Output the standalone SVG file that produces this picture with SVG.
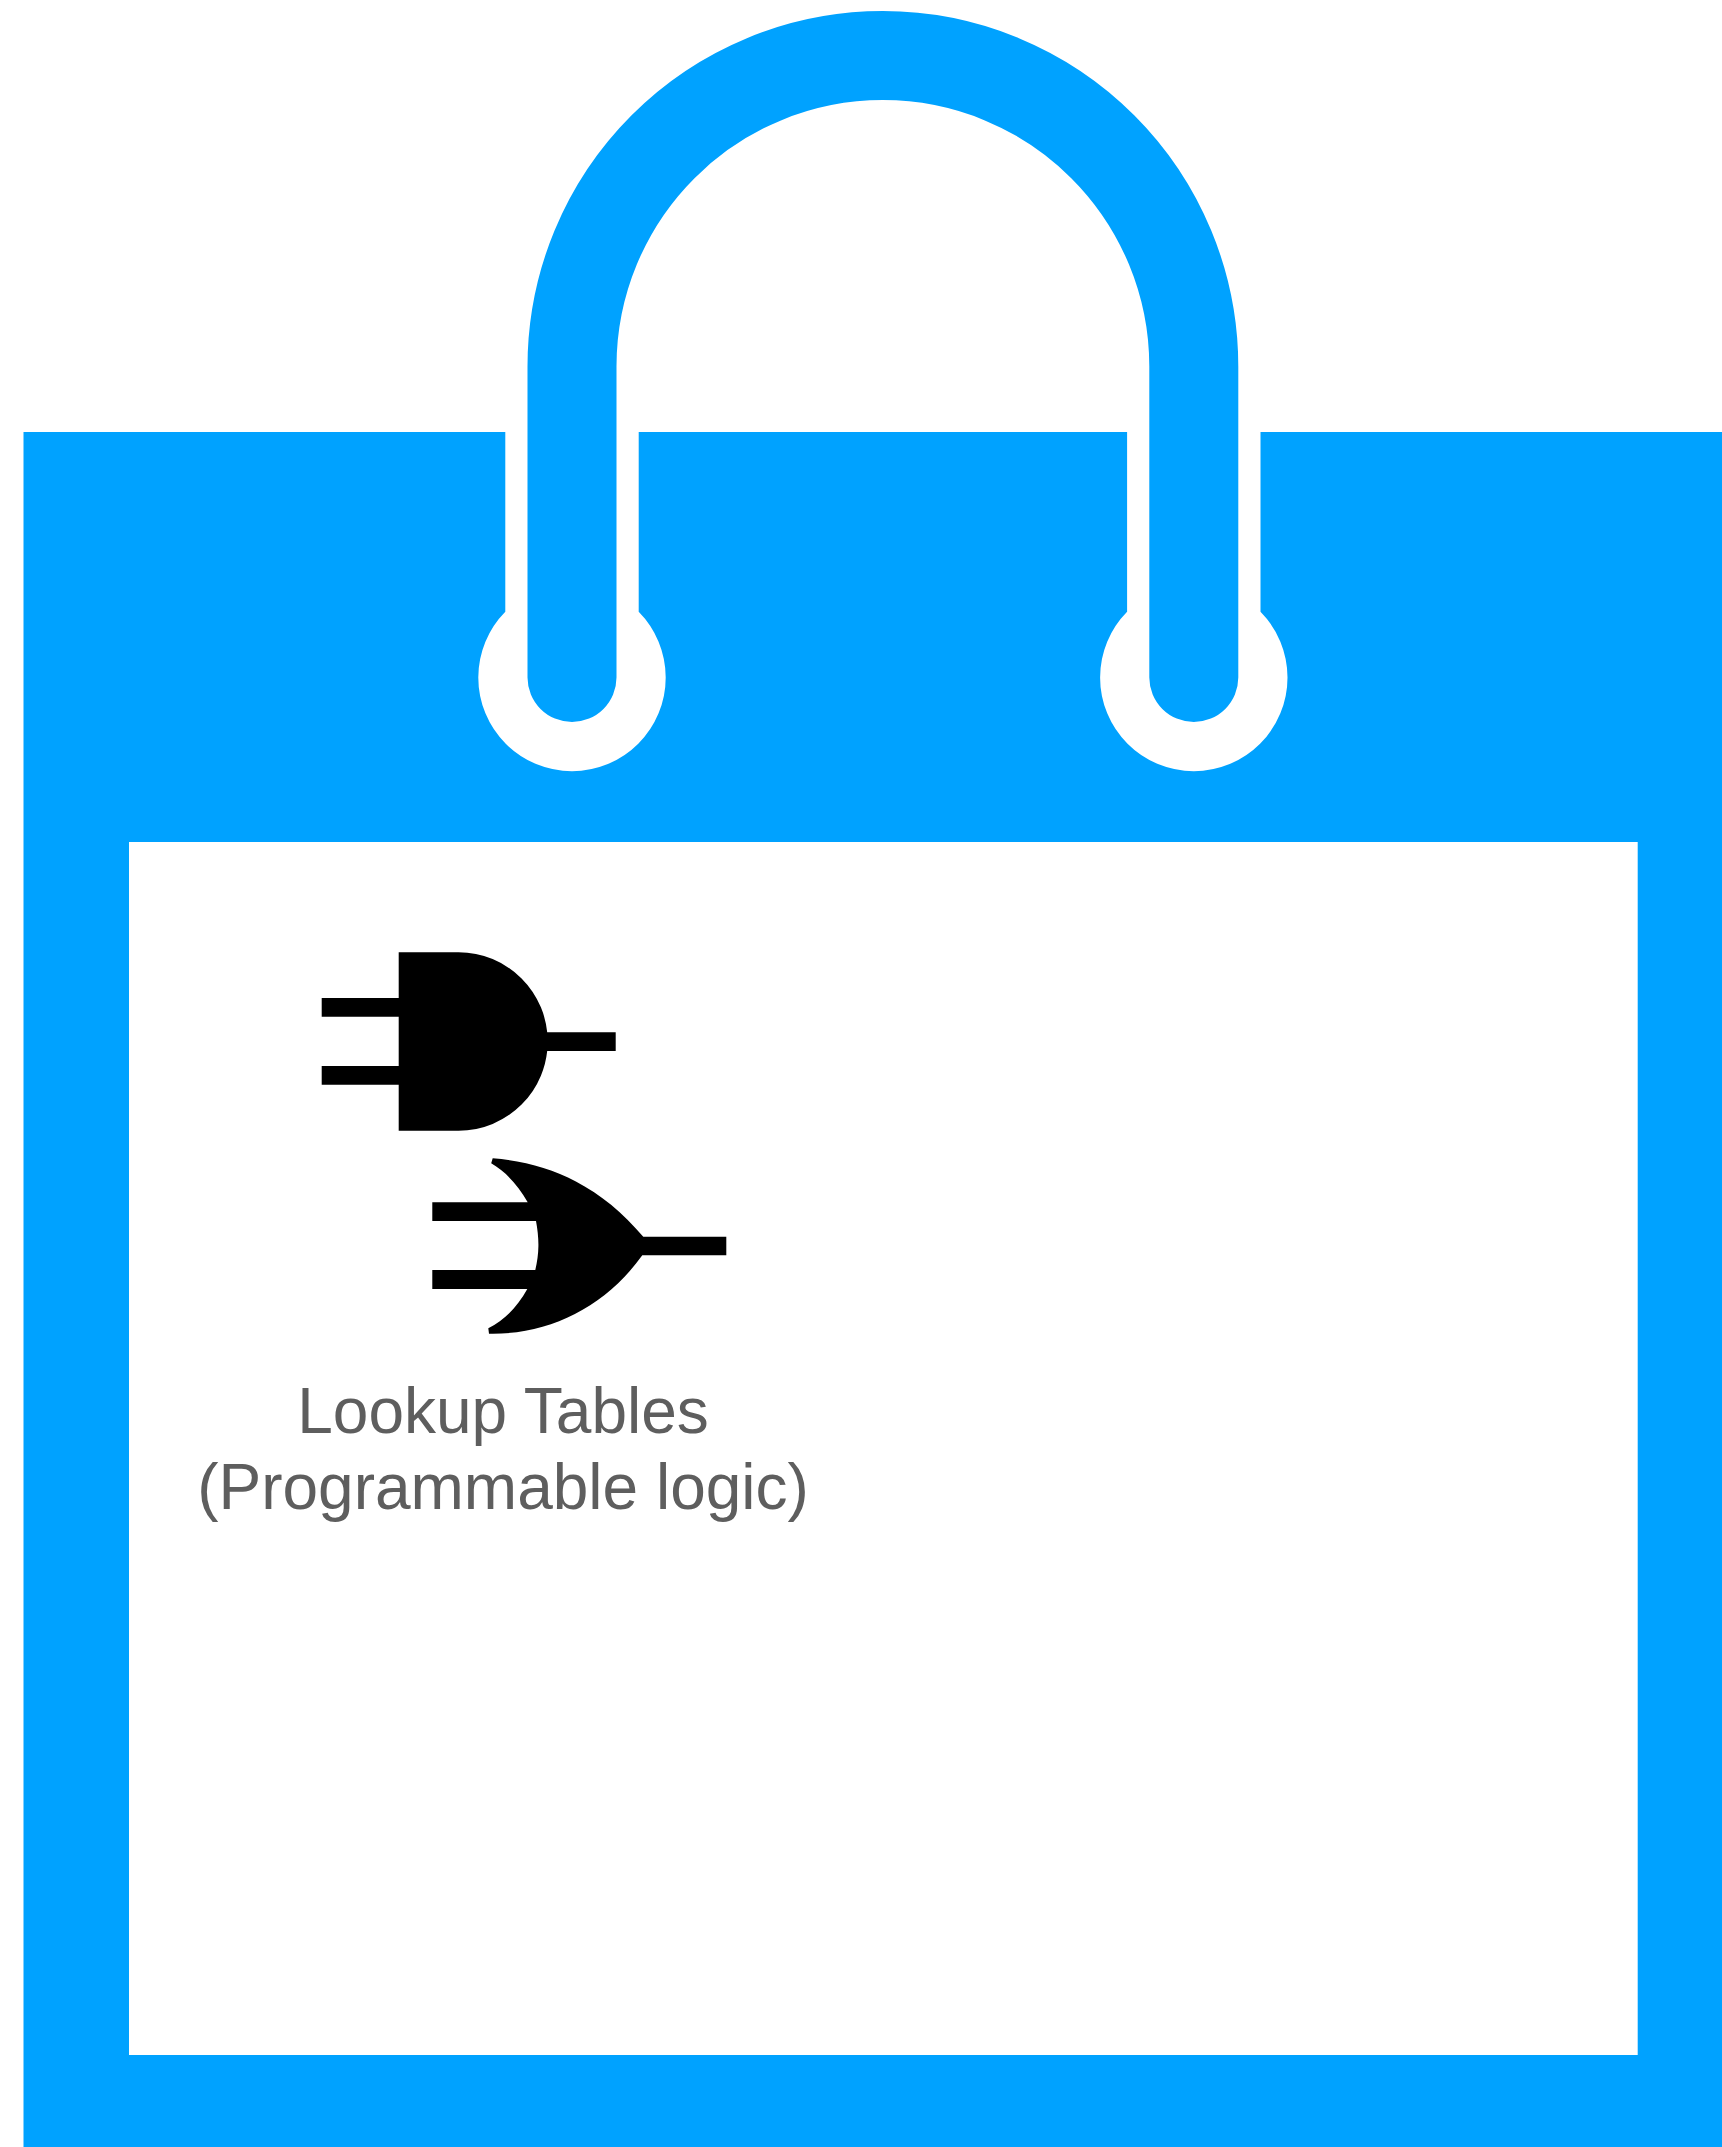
<svg xmlns="http://www.w3.org/2000/svg" width="1722" height="2147" viewBox="0 0 1722 2147">
<style>
.b{fill:#00a2ff}
.w{fill:#fff}
.k{fill:#000}
text{font-family:"Liberation Sans",Arial,sans-serif;font-size:64px;fill:#5e5e5e;text-anchor:middle}
</style>
<defs>
<path id="slot" class="w" d="M-66.7 -257.5H66.7V-65.8a93.7 93.7 0 0 1 19.87 29.94a93.7 93.7 0 0 1 7.13 35.86a93.7 93.7 0 0 1 -7.13 35.86a93.7 93.7 0 0 1 -20.31 30.4a93.7 93.7 0 0 1 -30.4 20.31a93.7 93.7 0 0 1 -35.86 7.13a93.7 93.7 0 0 1 -35.86 -7.13a93.7 93.7 0 0 1 -30.4 -20.31a93.7 93.7 0 0 1 -20.31 -30.4a93.7 93.7 0 0 1 -7.13 -35.86a93.7 93.7 0 0 1 7.13 -35.86a93.7 93.7 0 0 1 19.87 -29.94Z"/>
</defs>
<rect width="1722" height="2147" fill="#fff"/>
<g id="bag">
<rect class="b" x="23.5" y="432" width="1698.5" height="1715"/>
<rect class="w" x="129" y="842" width="1508.7" height="1213"/>
</g>
<g id="slots">
<use href="#slot" x="572" y="677.5"/>
<use href="#slot" x="1193.8" y="677.5"/>
</g>
<g id="handle">
<path d="M572 677.5V366.5A310.9 310.9 0 0 1 595.67 247.52A310.9 310.9 0 0 1 663.06 146.66A310.9 310.9 0 0 1 763.92 79.27A310.9 310.9 0 0 1 882.9 55.6A310.9 310.9 0 0 1 1001.88 79.27A310.9 310.9 0 0 1 1102.74 146.66A310.9 310.9 0 0 1 1170.13 247.52A310.9 310.9 0 0 1 1193.8 366.5V677.5" fill="none" stroke="#00a2ff" stroke-width="89" stroke-linecap="round"/>
</g>
<g id="and-gate">
<path class="k" d="M398.7 952.3H458.5A89.2 89.2 0 0 1 492.64 959.09A89.2 89.2 0 0 1 521.57 978.43A89.2 89.2 0 0 1 540.91 1007.36A89.2 89.2 0 0 1 547.2 1032.3H615.7V1051H547.2A89.2 89.2 0 0 1 540.91 1075.64A89.2 89.2 0 0 1 521.57 1104.57A89.2 89.2 0 0 1 492.64 1123.91A89.2 89.2 0 0 1 458.5 1130.7H398.7V1084.7H321.7V1066H398.7V1016.7H321.7V998H398.7Z"/>
</g>
<g id="or-gate">
<path class="k" d="M492.7 1158.3C523.35 1160.65 550.93 1168.33 575.88 1181.38C600.83 1194.43 623.15 1212.85 643.3 1236.7H726.3V1255.3H642.3C624.15 1280.65 601.08 1300.58 574.91 1314C548.75 1327.43 519.5 1334.35 489 1333.7L488.3 1328.3C505 1320 518 1306 527.3 1289H432.3V1270H535.3C537.2 1262 538.3 1254 538.4 1246C538.5 1238 537.6 1229.5 536 1221H432.3V1202.3H527.7C518 1185 506 1172 491.2 1163.3Z"/>
</g>
<g id="label">
<text x="503" y="1433">Lookup Tables</text>
<text x="503" y="1509">(Programmable logic)</text>
</g>
</svg>
